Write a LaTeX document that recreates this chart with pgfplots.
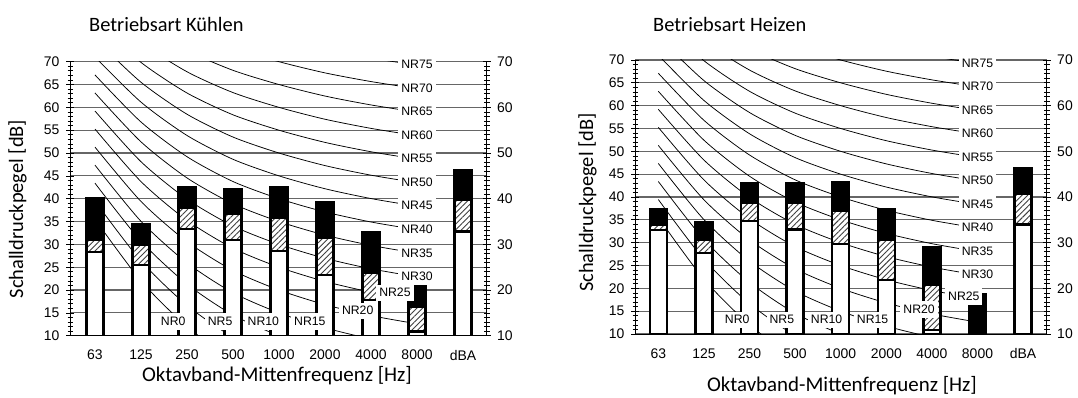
\documentclass[border=0pt]{standalone}
\usepackage{pgfplots}
\pgfplotsset{compat=1.18}
\usepackage{pgfplotstable}
\usepackage{fontspec}
\setmainfont{Liberation Sans}
\newfontfamily\calibri{Carlito}
\usetikzlibrary{patterns.meta}
\newcommand\tickfont{\fontsize{14}{16}\selectfont}

% NR curves: rows = octave bands 63..8000 Hz (x = 0..7)
\pgfplotstableread{
x NR0 NR5 NR10 NR15 NR20 NR25 NR30 NR35 NR40 NR45 NR50 NR55 NR60 NR65 NR70 NR75
0 35.5 39.45 43.4 47.35 51.3 55.25 59.2 63.15 67.1 71.05 75.0 78.95 82.9 86.85 90.8 94.75
1 22.0 26.35 30.7 35.05 39.4 43.75 48.1 52.45 56.8 61.15 65.5 69.85 74.2 78.55 82.9 87.25
2 12.0 16.65 21.3 25.95 30.6 35.25 39.9 44.55 49.2 53.85 58.5 63.15 67.8 72.45 77.1 81.75
3 4.8 9.67 14.54 19.41 24.28 29.15 34.02 38.89 43.76 48.63 53.5 58.37 63.24 68.11 72.98 77.85
4 0 5 10 15 20 25 30 35 40 45 50 55 60 65 70 75
5 -3.5 1.58 6.65 11.73 16.8 21.88 26.95 32.03 37.1 42.18 47.25 52.33 57.4 62.48 67.55 72.63
6 -6.1 -0.98 4.15 9.28 14.4 19.53 24.65 29.78 34.9 40.03 45.15 50.28 55.4 60.53 65.65 70.78
7 -8.0 -2.85 2.3 7.45 12.6 17.75 22.9 28.05 33.2 38.35 43.5 48.65 53.8 58.95 64.1 69.25
}\nrtable

% Betriebsart Kuehlen
\pgfplotstableread{
x top mid low
0 40.1 31.0 28.4
1 34.4 29.9 25.5
2 42.6 38.1 33.4
3 42.0 36.7 31.0
4 42.6 35.9 28.5
5 39.2 31.5 23.3
6 32.6 23.7 17.8
7 20.9 16.4 10.9
8 46.3 39.7 32.8
}\kuehlen

% Betriebsart Heizen
\pgfplotstableread{
x top mid low
0 37.4 33.9 32.8
1 34.4 30.7 27.7
2 43.0 38.8 34.8
3 43.0 38.8 32.9
4 43.2 36.9 29.7
5 37.3 30.6 21.8
6 29.0 20.7 10.9
7 18.8 nan nan
8 46.3 40.7 34.0
}\heizen

\tikzset{
  nrlab/.style={fill=white, inner xsep=3bp, inner ysep=3bp, text height=9bp, text depth=1.5bp, font=\fontsize{12.3}{14}\selectfont},
}
\pgfplotsset{
  nrcurve/.style={black, line width=0.75bp, smooth, tension=0.45, mark=none, forget plot},
  barcommon/.style={ybar, bar width=17bp, bar shift=0pt, draw=black, line width=2.3bp, mark=none, forget plot},
  bartop/.style={barcommon, fill=black},
  barmid/.style={barcommon, preaction={fill=white}, pattern={Lines[angle=45,distance=4bp,line width=0.9bp]}, pattern color=black!75},
  barlow/.style={barcommon, fill=white},
  mainaxis/.style={
    scale only axis, height=274bp,
    ymin=10, ymax=70,
    axis x line*=bottom, axis y line*=left,
    xtick={0,...,8}, xticklabels={63,125,250,500,1000,2000,4000,8000,dBA},
    xtick style={draw=none},
    ytick={10,15,...,70}, minor y tick num=4,
    tick align=center, major tick length=8bp, minor tick length=5bp,
    ymajorgrids, grid style={black!60, line width=1.1bp},
    /pgf/number format/assume math mode=true,
    xticklabel style={font=\tickfont, yshift=-7bp},
    yticklabel style={font=\tickfont, xshift=-3bp},
    axis line style={black, line width=0.8bp},
    tick style={black, line width=0.7bp},
  },
  rightaxis/.style={
    scale only axis, height=274bp,
    ymin=10, ymax=70, clip=false,
    axis y line*=right, axis x line=none,
    ytick={10,20,...,70}, minor y tick num=9,
    tick align=center, major tick length=8bp, minor tick length=6bp,
    /pgf/number format/assume math mode=true,
    yticklabel style={font=\tickfont, xshift=3bp},
    axis line style={black, line width=0.8bp},
    tick style={black, line width=0.7bp},
  },
}

\begin{document}
\begin{tikzpicture}[x=1bp,y=1bp]
\path[use as bounding box] (0,0) rectangle (1078,397);

% ---------------- left chart ----------------
\begin{axis}[mainaxis, at={(70bp,61.3bp)}, anchor=south west, width=416.7bp,
  xmin=-0.543, xmax=8.515]
  \pgfplotsinvokeforeach{NR0,NR5,NR10,NR15,NR20,NR25,NR30,NR35,NR40,NR45,NR50,NR55,NR60,NR65,NR70,NR75}{
    \addplot[nrcurve] table[x=x, y=#1] {\nrtable};
  }
  \addplot[bartop] table[x=x, y=top] {\kuehlen};
  \addplot[barmid] table[x=x, y=mid] {\kuehlen};
  \addplot[barlow] table[x=x, y=low] {\kuehlen};
\end{axis}
\begin{axis}[rightaxis, at={(70bp,61.3bp)}, anchor=south west, width=416.7bp,
  xmin=-0.543, xmax=8.515]
  \node[nrlab] at (axis cs:7,69.25) {NR75};
  \node[nrlab] at (axis cs:7,64.1) {NR70};
  \node[nrlab] at (axis cs:7,58.95) {NR65};
  \node[nrlab] at (axis cs:7,53.8) {NR60};
  \node[nrlab] at (axis cs:7,48.65) {NR55};
  \node[nrlab] at (axis cs:7,43.5) {NR50};
  \node[nrlab] at (axis cs:7,38.35) {NR45};
  \node[nrlab] at (axis cs:7,33.2) {NR40};
  \node[nrlab] at (axis cs:7,28.05) {NR35};
  \node[nrlab] at (axis cs:7,22.9) {NR30};
  \node[nrlab] at (axis cs:6.52,19.4) {NR25};
  \node[nrlab] at (axis cs:5.71,15.4) {NR20};
  \node[nrlab] at (axis cs:4.67,13.07) {NR15};
  \node[nrlab] at (axis cs:3.66,13.07) {NR10};
  \node[nrlab] at (axis cs:2.72,13.07) {NR5};
  \node[nrlab] at (axis cs:1.70,13.07) {NR0};
\end{axis}

% ---------------- right chart ----------------
\begin{axis}[mainaxis, at={(635bp,63bp)}, anchor=south west, width=411.7bp,
  xmin=-0.511, xmax=8.518]
  \pgfplotsinvokeforeach{NR0,NR5,NR10,NR15,NR20,NR25,NR30,NR35,NR40,NR45,NR50,NR55,NR60,NR65,NR70,NR75}{
    \addplot[nrcurve] table[x=x, y=#1] {\nrtable};
  }
  \addplot[bartop] table[x=x, y=top] {\heizen};
  \addplot[barmid] table[x=x, y=mid] {\heizen};
  \addplot[barlow] table[x=x, y=low] {\heizen};
\end{axis}
\begin{axis}[rightaxis, at={(635bp,63bp)}, anchor=south west, width=411.7bp,
  xmin=-0.511, xmax=8.518]
  \node[nrlab] at (axis cs:7,69.25) {NR75};
  \node[nrlab] at (axis cs:7,64.1) {NR70};
  \node[nrlab] at (axis cs:7,58.95) {NR65};
  \node[nrlab] at (axis cs:7,53.8) {NR60};
  \node[nrlab] at (axis cs:7,48.65) {NR55};
  \node[nrlab] at (axis cs:7,43.5) {NR50};
  \node[nrlab] at (axis cs:7,38.35) {NR45};
  \node[nrlab] at (axis cs:7,33.2) {NR40};
  \node[nrlab] at (axis cs:7,28.05) {NR35};
  \node[nrlab] at (axis cs:7,22.9) {NR30};
  \node[nrlab] at (axis cs:6.70,18.2) {NR25};
  \node[nrlab] at (axis cs:5.72,15.4) {NR20};
  \node[nrlab] at (axis cs:4.70,13.07) {NR15};
  \node[nrlab] at (axis cs:3.69,13.07) {NR10};
  \node[nrlab] at (axis cs:2.71,13.07) {NR5};
  \node[nrlab] at (axis cs:1.73,13.07) {NR0};
\end{axis}

% ---------------- titles and axis titles ----------------
\node[anchor=base west, font=\calibri\fontsize{20.5}{24}\selectfont, inner sep=0pt] at (89,366) {Betriebsart Kühlen};
\node[anchor=base west, font=\calibri\fontsize{20.5}{24}\selectfont, inner sep=0pt] at (653,366) {Betriebsart Heizen};
\node[rotate=90, font=\calibri\fontsize{20.5}{24}\selectfont, inner sep=0pt] at (17.5,188) {Schalldruckpegel [dB]};
\node[rotate=90, font=\calibri\fontsize{20.5}{24}\selectfont, inner sep=0pt] at (587.5,194.5) {Schalldruckpegel [dB]};
\node[anchor=base, font=\calibri\fontsize{21}{24}\selectfont, inner sep=0pt] at (277,16) {Oktavband-Mittenfrequenz [Hz]};
\node[anchor=base, font=\calibri\fontsize{21}{24}\selectfont, inner sep=0pt] at (842,6) {Oktavband-Mittenfrequenz [Hz]};
\end{tikzpicture}
\end{document}
